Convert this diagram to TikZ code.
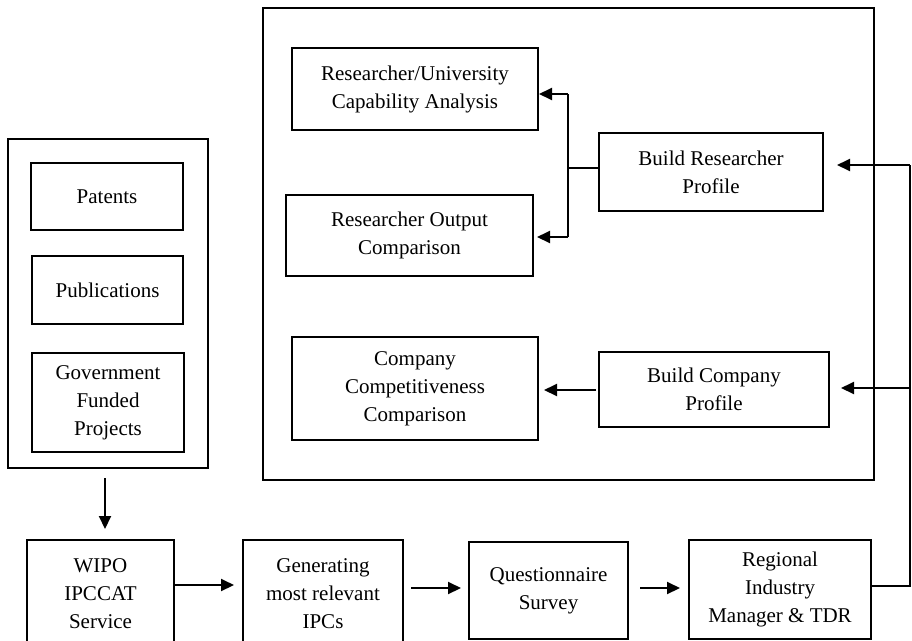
\documentclass[tikz,border=0pt]{standalone}
\usepackage{fontspec}
\setmainfont{Liberation Serif}
\usetikzlibrary{arrows.meta}
\begin{document}
\begin{tikzpicture}[x=1pt,y=-1pt,
  box/.style={draw, line width=2pt, align=center, inner sep=0pt,
    font=\fontsize{21}{28}\selectfont},
  ln/.style={line width=2pt},
  arr/.style={line width=2pt, -{Triangle[length=13pt,width=12pt]}}]
\path[use as bounding box, clip] (0,0) rectangle (912,640);
% outer frames
\node[box, minimum width=611pt, minimum height=472pt] (big) at (568.5,244) {};
\node[box, minimum width=200pt, minimum height=329pt] (left) at (108,303.5) {};
% inner boxes right frame
\node[box, minimum width=246pt, minimum height=82pt] (ru) at (415,89) {Researcher/University\\Capability Analysis};
\node[box, minimum width=247pt, minimum height=81pt] (ro) at (409.5,235.5) {Researcher Output\\Comparison};
\node[box, minimum width=224pt, minimum height=78pt] (brp) at (711,172) {Build Researcher\\Profile};
\node[box, minimum width=246pt, minimum height=103pt] (cc) at (415,388.5) {Company\\Competitiveness\\Comparison};
\node[box, minimum width=230pt, minimum height=75pt] (bcp) at (714,389.5) {Build Company\\Profile};
% inner boxes left frame
\node[box, minimum width=152pt, minimum height=67pt] (pat) at (107,196.5) {Patents};
\node[box, minimum width=151pt, minimum height=68pt] (pub) at (107.5,290) {Publications};
\node[box, minimum width=152pt, minimum height=99pt] (gov) at (108,402.5) {Government\\Funded\\Projects};
% bottom row
\node[box, minimum width=147pt, minimum height=108pt] (wipo) at (100.5,594) {WIPO\\IPCCAT\\Service};
\node[box, minimum width=160pt, minimum height=108pt] (gen) at (323,594) {Generating\\most relevant\\IPCs};
\node[box, minimum width=159pt, minimum height=97pt] (q) at (548.5,590.5) {Questionnaire\\Survey};
\node[box, minimum width=182pt, minimum height=99pt] (reg) at (780,589.5) {Regional\\Industry\\Manager \& TDR};
% coordinates
\coordinate (c1) at (910,586);
\coordinate (c2) at (910,165);
\coordinate (c3) at (910,388);
\coordinate (j) at (568,168);
\coordinate (jt) at (568,94);
\coordinate (jb) at (568,237);
% connectors
\draw[arr, shorten <=9pt, shorten >=10pt] (left.south -| 105,0) -- (wipo.north -| 105,0);
\draw[arr, shorten >=8pt] (wipo.east |- 0,585) -- (gen.west |- 0,585);
\draw[arr, shorten <=7pt, shorten >=7pt] (gen.east |- 0,588) -- (q.west |- 0,588);
\draw[arr, shorten <=11pt, shorten >=8pt] (q.east |- 0,588) -- (reg.west |- 0,588);
\draw[ln] (reg.east |- c1) -- (c1) -- (c2);
\draw[arr, shorten >=13pt] (c2) -- (brp.east |- c2);
\draw[arr, shorten >=11pt] (c3) -- (bcp.east |- c3);
\draw[ln] (brp.west |- j) -- (j);
\draw[ln] (jt) -- (jb);
\draw[arr] (jt) -- (ru.east |- jt);
\draw[arr, shorten >=3pt] (jb) -- (ro.east |- jb);
\draw[arr, shorten <=2pt, shorten >=5pt] (bcp.west |- 0,390) -- (cc.east |- 0,390);
\end{tikzpicture}
\end{document}
